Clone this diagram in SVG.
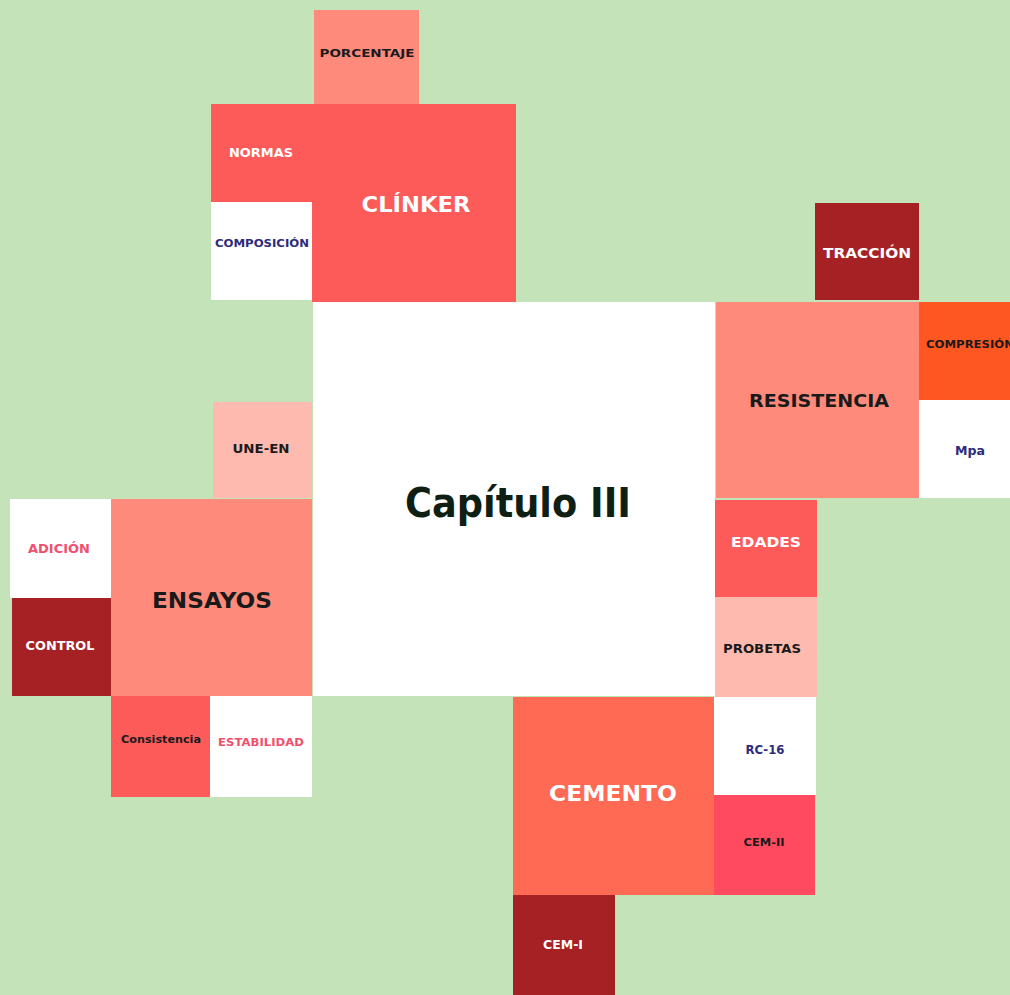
<svg xmlns="http://www.w3.org/2000/svg" width="1010" height="995" viewBox="0 0 1010 995">
<style>
text{font-family:"DejaVu Sans","Liberation Sans",sans-serif;font-weight:bold;text-anchor:middle}
.w{fill:#ffffff}.k{fill:#1a1a1a}.n{fill:#2e2a7c}.p{fill:#f0506e}
</style>
<rect x="0" y="0" width="1010" height="995" fill="#c5e3b9"/>
<g id="connectors"/>
<g id="centro"><rect x="313" y="302" width="402" height="394" fill="#ffffff"/><text x="518" y="517" font-size="40" fill="#0f1f14" textLength="226" lengthAdjust="spacingAndGlyphs">Capítulo III</text></g>
<g id="porcentaje"><rect x="314" y="10" width="105" height="94" fill="#fd8a7b"/><text class="k" x="367" y="57" font-size="11" textLength="95" lengthAdjust="spacingAndGlyphs">PORCENTAJE</text></g>
<g id="clinker"><path d="M211,104 H516 V302 H312 V202 H211 Z" fill="#fd5a5a"/><text class="w" x="416" y="212" font-size="21" textLength="109" lengthAdjust="spacingAndGlyphs">CLÍNKER</text></g>
<g id="normas"><text class="w" x="261" y="157" font-size="13" textLength="64" lengthAdjust="spacingAndGlyphs">NORMAS</text></g>
<g id="composicion"><rect x="211" y="202" width="101" height="98" fill="#ffffff"/><text class="n" x="262" y="247" font-size="11" textLength="94" lengthAdjust="spacingAndGlyphs">COMPOSICIÓN</text></g>
<g id="traccion"><rect x="815" y="203" width="104" height="97" fill="#a62124"/><text class="w" x="867" y="258" font-size="14" textLength="88" lengthAdjust="spacingAndGlyphs">TRACCIÓN</text></g>
<g id="resistencia"><rect x="716" y="302" width="203" height="196" fill="#fd8a7b"/><text class="k" x="819" y="407" font-size="18" textLength="140" lengthAdjust="spacingAndGlyphs">RESISTENCIA</text></g>
<g id="compresion"><rect x="919" y="302" width="91" height="98" fill="#ff5722"/><text class="k" x="970" y="348" font-size="11" textLength="88" lengthAdjust="spacingAndGlyphs">COMPRESIÓN</text></g>
<g id="mpa"><rect x="919" y="400" width="91" height="98" fill="#ffffff"/><text class="n" x="970" y="455" font-size="12" textLength="30" lengthAdjust="spacingAndGlyphs">Mpa</text></g>
<g id="une-en"><rect x="213" y="402" width="99" height="96" fill="#ffbab0"/><text class="k" x="261" y="453" font-size="12" textLength="57" lengthAdjust="spacingAndGlyphs">UNE-EN</text></g>
<g id="ensayos"><rect x="111" y="499" width="201" height="197" fill="#fd8a7b"/><text class="k" x="212" y="608" font-size="21" textLength="120" lengthAdjust="spacingAndGlyphs">ENSAYOS</text></g>
<g id="adicion"><rect x="10" y="499" width="101" height="99" fill="#ffffff"/><text class="p" x="59" y="553" font-size="12" textLength="62" lengthAdjust="spacingAndGlyphs">ADICIÓN</text></g>
<g id="control"><rect x="12" y="598" width="99" height="98" fill="#a62124"/><text class="w" x="60" y="650" font-size="13" textLength="69" lengthAdjust="spacingAndGlyphs">CONTROL</text></g>
<g id="consistencia"><rect x="111" y="696" width="99" height="101" fill="#fd5a5a"/><text class="k" x="161" y="743" font-size="11" textLength="80" lengthAdjust="spacingAndGlyphs">Consistencia</text></g>
<g id="estabilidad"><rect x="210" y="696" width="102" height="101" fill="#ffffff"/><text class="p" x="261" y="746" font-size="11" textLength="86" lengthAdjust="spacingAndGlyphs">ESTABILIDAD</text></g>
<g id="edades"><rect x="715" y="500" width="102" height="97" fill="#fd5a5a"/><text class="w" x="766" y="547" font-size="14" textLength="70" lengthAdjust="spacingAndGlyphs">EDADES</text></g>
<g id="probetas"><rect x="715" y="597" width="102" height="100" fill="#ffbab0"/><text class="k" x="762" y="653" font-size="12" textLength="78" lengthAdjust="spacingAndGlyphs">PROBETAS</text></g>
<g id="cemento"><rect x="513" y="697" width="201" height="198" fill="#ff6a55"/><text class="w" x="613" y="801" font-size="21" textLength="128" lengthAdjust="spacingAndGlyphs">CEMENTO</text></g>
<g id="rc-16"><rect x="714" y="697" width="102" height="98" fill="#ffffff"/><text class="n" x="765" y="754" font-size="12" textLength="39" lengthAdjust="spacingAndGlyphs">RC-16</text></g>
<g id="cem-ii"><rect x="714" y="795" width="101" height="100" fill="#ff4a60"/><text class="k" x="764" y="846" font-size="11" textLength="41" lengthAdjust="spacingAndGlyphs">CEM-II</text></g>
<g id="cem-i"><rect x="513" y="895" width="102" height="100" fill="#a62124"/><text class="w" x="563" y="949" font-size="12" textLength="40" lengthAdjust="spacingAndGlyphs">CEM-I</text></g>
</svg>
